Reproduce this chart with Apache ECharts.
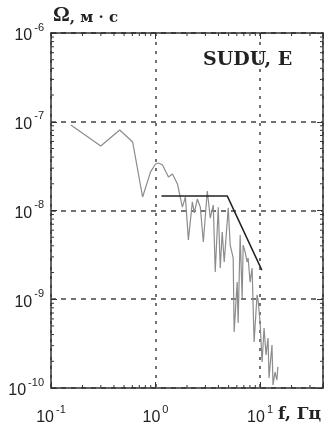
<!DOCTYPE html>
<html>
<head>
<meta charset="utf-8">
<script src="https://cdn.jsdelivr.net/npm/echarts@6/dist/echarts.min.js"></script>
<style>
  html, body { margin: 0; padding: 0; background: #fff; }
  #chart { width: 326px; height: 429px; }
</style>
</head>
<body>
<div id="chart"></div>
<script>
// spectrum (f in Hz, Omega in m*s)
const freq = [0.155, 0.299, 0.454, 0.604, 0.752, 0.896, 1.0, 1.068, 1.166, 1.33, 1.452, 1.62, 1.807, 1.931,
  2.062, 2.25, 2.351, 2.512, 2.683, 2.865, 3.126, 3.342, 3.568, 3.726, 3.981, 4.159, 4.345, 4.54, 4.96, 5.18,
  5.53, 5.65, 6.04, 6.17, 6.45, 6.74, 6.89, 7.2, 7.52, 7.69, 8.03, 8.39, 8.77, 9.36, 9.57, 10.0, 10.45, 10.92,
  11.41, 11.92, 12.18, 13.0, 13.3, 13.9, 14.5, 14.8]
const omega = [9.19e-8, 5.33e-8, 8.07e-8, 5.92e-8, 1.42e-8, 2.72e-8, 3.34e-8, 3.43e-8, 3.26e-8, 2.38e-8, 2.58e-8,
  1.99e-8, 1.09e-8, 1.42e-8, 4.66e-9, 1.25e-8, 9.38e-9, 1.35e-8, 1.09e-8, 4.42e-9, 1.66e-8, 8.22e-9, 1.15e-8,
  2.03e-9, 1.09e-8, 2.25e-9, 5.73e-9, 2.63e-9, 1.07e-8, 4.08e-9, 2.92e-9, 4.28e-10, 1.56e-9, 5.40e-10, 5.30e-9,
  1.03e-9, 4.08e-9, 3.40e-9, 2.63e-9, 2.92e-9, 1.56e-9, 2.25e-9, 3.30e-10, 1.12e-9, 9.82e-10, 5.55e-10, 1.96e-10,
  4.74e-10, 2.36e-10, 3.66e-10, 1.30e-10, 3.05e-10, 1.08e-10, 1.51e-10, 1.23e-10, 1.73e-10]

// model spectrum (flat level + corner)
const fitFreq = [1.14, 4.85, 10.4]
const fitOmega = [1.46e-8, 1.46e-8, 2.13e-9]

const xMin = 0.1
const xMax = 40
const yMin = 1e-10
const yMax = 1e-6

// minor log ticks 2..9 in each decade
const xDecades = [0.1, 1, 10]
const yDecades = [1e-10, 1e-9, 1e-8, 1e-7]
const xMinorTicks = []
xDecades.forEach((d) => {
  for (let k = 2; k <= 9; k++) if (k * d < xMax) xMinorTicks.push(k * d)
})
const yMinorTicks = []
yDecades.forEach((d) => {
  for (let k = 2; k <= 9; k++) yMinorTicks.push(k * d)
})

const axisColor = '#333'
const tickStyle = { stroke: axisColor, lineWidth: 1 }

function powLabel(v) {
  const e = Math.round(Math.log10(v))
  if (Math.abs(Math.log10(v) - e) > 1e-6) return ''
  return '{b|10}{e|' + e + '}'
}

const labelRich = {
  b: { fontFamily: 'Liberation Sans', fontSize: 16, color: '#222', lineHeight: 22, verticalAlign: 'bottom' },
  e: { fontFamily: 'Liberation Sans', fontSize: 11, color: '#222', lineHeight: 22, verticalAlign: 'top', padding: [0, 0, 0, 2] }
}

const chart = echarts.init(document.getElementById('chart'))

chart.setOption({
  animation: false,
  backgroundColor: '#fff',
  grid: { left: 51, right: 2, top: 33, bottom: 41 },
  title: [
    {
      text: '{o|Ω}{t|, м · с}',
      left: 53,
      top: 2,
      padding: 0,
      textStyle: {
        rich: {
          o: { fontFamily: 'Liberation Serif', fontSize: 21, color: '#222', verticalAlign: 'bottom', lineHeight: 24 },
          t: { fontFamily: 'DejaVu Serif', fontWeight: 'bold', fontSize: 15, color: '#222', verticalAlign: 'bottom', lineHeight: 24 }
        }
      }
    },
    {
      text: 'SUDU, E',
      left: 203,
      top: 51,
      padding: 0,
      textStyle: { fontFamily: 'DejaVu Serif', fontWeight: 'bold', fontSize: 19, color: '#222' }
    },
    {
      text: 'f, Гц',
      left: 278,
      top: 406,
      padding: 0,
      textStyle: { fontFamily: 'DejaVu Serif', fontWeight: 'bold', fontSize: 17, color: '#222' }
    }
  ],
  xAxis: [
    {
      type: 'log',
      logBase: 10,
      min: xMin,
      max: xMax,
      position: 'bottom',
      axisLine: { lineStyle: { color: axisColor, width: 1.5 } },
      axisTick: { inside: true, length: 6, lineStyle: { color: axisColor } },
      axisLabel: { margin: 16, formatter: powLabel, rich: labelRich },
      splitLine: { show: true, lineStyle: { color: '#444', width: 1.5, type: [3, 6] } }
    },
    {
      type: 'log',
      logBase: 10,
      min: xMin,
      max: xMax,
      position: 'top',
      axisLine: { lineStyle: { color: axisColor, width: 1.5 } },
      axisTick: { inside: true, length: 6, lineStyle: { color: axisColor } },
      axisLabel: { show: false },
      splitLine: { show: false }
    }
  ],
  yAxis: [
    {
      type: 'log',
      logBase: 10,
      min: yMin,
      max: yMax,
      position: 'left',
      axisLine: { lineStyle: { color: axisColor, width: 1.5 } },
      axisTick: { inside: true, length: 6, lineStyle: { color: axisColor } },
      axisLabel: { margin: 7, formatter: powLabel, rich: labelRich },
      splitLine: { show: true, lineStyle: { color: '#444', width: 1.5, type: [5, 5] } }
    },
    {
      type: 'log',
      logBase: 10,
      min: yMin,
      max: yMax,
      position: 'right',
      axisLine: { lineStyle: { color: axisColor, width: 1.5 } },
      axisTick: { inside: true, length: 6, lineStyle: { color: axisColor } },
      axisLabel: { show: false },
      splitLine: { show: false }
    }
  ],
  series: [
    {
      name: 'spectrum',
      type: 'line',
      data: freq.map((f, i) => [f, omega[i]]),
      symbol: 'none',
      lineStyle: { color: '#8c8c8c', width: 1.2 },
      z: 3
    },
    {
      name: 'model',
      type: 'line',
      data: fitFreq.map((f, i) => [f, fitOmega[i]]),
      symbol: 'none',
      lineStyle: { color: '#222', width: 1.5 },
      z: 4
    },
    {
      name: 'x minor ticks',
      type: 'custom',
      clip: false,
      silent: true,
      data: xMinorTicks.map((v) => [v, yMin]),
      renderItem: (params, api) => {
        const b = api.coord([api.value(0), yMin])
        const t = api.coord([api.value(0), yMax])
        return {
          type: 'group',
          children: [
            { type: 'line', shape: { x1: b[0], y1: b[1], x2: b[0], y2: b[1] - 3 }, style: tickStyle },
            { type: 'line', shape: { x1: t[0], y1: t[1], x2: t[0], y2: t[1] + 3 }, style: tickStyle }
          ]
        }
      }
    },
    {
      name: 'y minor ticks',
      type: 'custom',
      clip: false,
      silent: true,
      data: yMinorTicks.map((v) => [xMin, v]),
      renderItem: (params, api) => {
        const l = api.coord([xMin, api.value(1)])
        const r = api.coord([xMax, api.value(1)])
        return {
          type: 'group',
          children: [
            { type: 'line', shape: { x1: l[0], y1: l[1], x2: l[0] + 3, y2: l[1] }, style: tickStyle },
            { type: 'line', shape: { x1: r[0], y1: r[1], x2: r[0] - 3, y2: r[1] }, style: tickStyle }
          ]
        }
      }
    }
  ]
})
</script>
</body>
</html>
